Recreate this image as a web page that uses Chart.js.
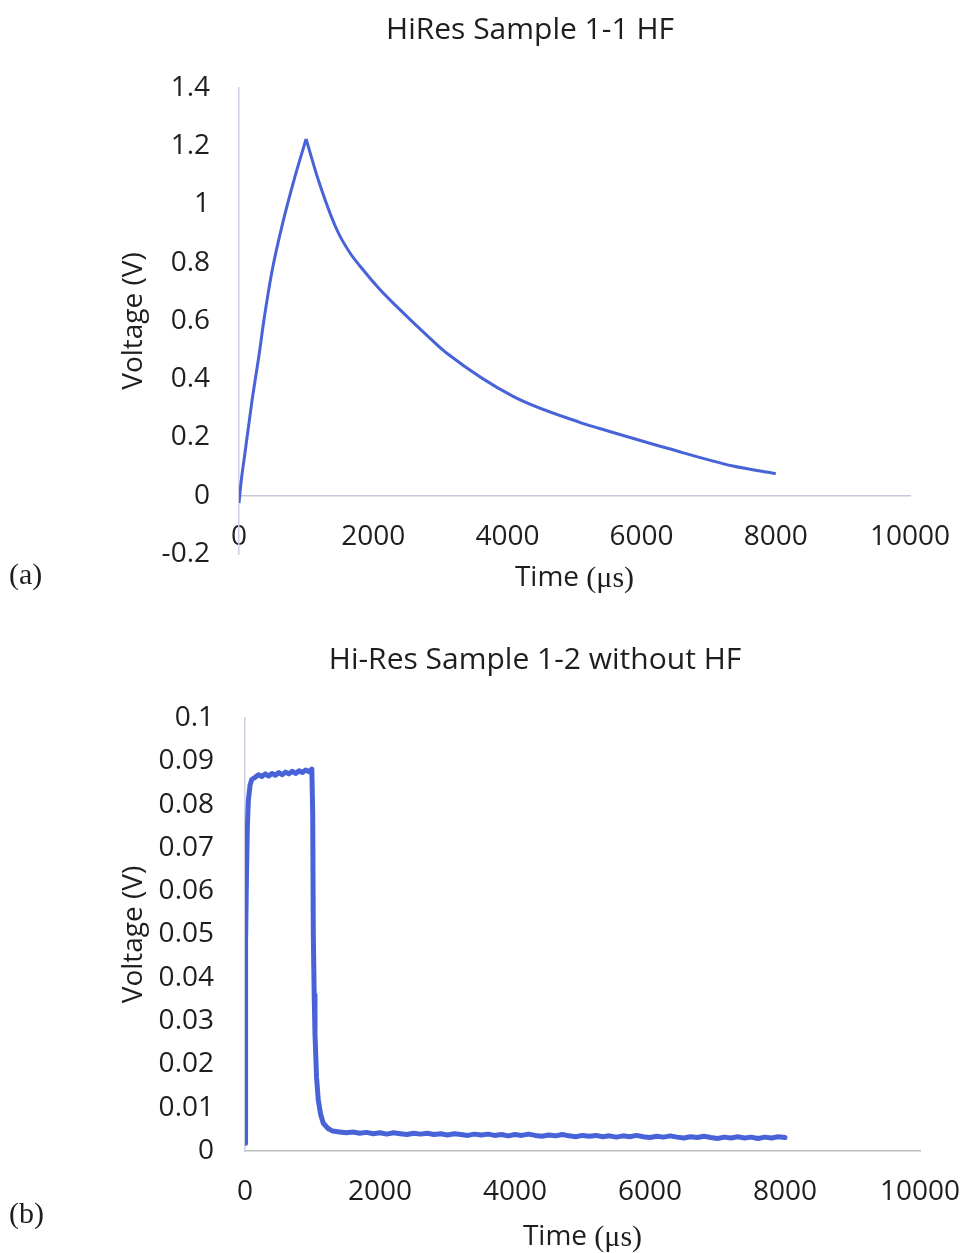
<!DOCTYPE html>
<html>
<head>
<meta charset="utf-8">
<script src="https://cdn.jsdelivr.net/npm/chart.js@4.4.1/dist/chart.umd.min.js"></script>
<style>
  html, body { margin: 0; padding: 0; background: #fff; }
  #wrap { position: relative; width: 965px; height: 1253px; }
  canvas { position: absolute; left: 0; }
  #chartA { top: 0; }
  #chartB { top: 620px; }
</style>
</head>
<body>
<div id="wrap">
  <canvas id="chartA" width="965" height="620"></canvas>
  <canvas id="chartB" width="965" height="633"></canvas>
</div>
<script>
// ---- (a) HiRes Sample 1-1 HF ----
const riseTimeA = [0, 30, 89, 189, 303, 372, 496, 650, 834, 1000];
const riseVoltA = [-0.025, 0.045, 0.147, 0.318, 0.49, 0.604, 0.776, 0.935, 1.096, 1.225];
const decayTimeA = [1000, 1181, 1455, 1650, 1851, 2100, 2348, 2844, 3093, 4085, 5078, 5376, 6400, 7362, 8000];
const decayVoltA = [1.225, 1.085, 0.915, 0.835, 0.775, 0.708, 0.65, 0.541, 0.49, 0.341, 0.252, 0.231, 0.162, 0.102, 0.076];
const yTicksA = [-0.2, 0, 0.2, 0.4, 0.6, 0.8, 1, 1.2, 1.4];

// ---- (b) Hi-Res Sample 1-2 without HF ----
const riseTimeB = [0, 5, 12, 22, 35, 50, 75, 100];
const riseVoltB = [0.0018, 0.025, 0.048, 0.064, 0.075, 0.081, 0.0845, 0.0858];
const flatTimeB = [150, 200, 250, 300, 350, 400, 450, 500, 550, 600, 650, 700, 750, 800, 850, 900, 950, 990];
const flatVoltB = [0.0863, 0.0869, 0.0865, 0.0871, 0.0866, 0.0872, 0.0868, 0.0874, 0.0869, 0.0875, 0.0871, 0.0877, 0.0872, 0.0878, 0.0874, 0.0880, 0.0876, 0.0882];
const fallTimeB = [1003, 1012, 1025, 1037, 1060, 1086, 1120, 1160, 1230];
const fallVoltB = [0.078, 0.050, 0.036, 0.027, 0.017, 0.0117, 0.0085, 0.0064, 0.0052];
const tailTimeB = [1300, 1400, 1500, 1600, 1700, 1800, 1900, 2000, 2100, 2200, 2300, 2400, 2500, 2600, 2700, 2800, 2900,
  3000, 3100, 3200, 3300, 3400, 3500, 3600, 3700, 3800, 3900, 4000, 4100, 4200, 4300, 4400, 4500, 4600, 4700, 4800,
  4900, 5000, 5100, 5200, 5300, 5400, 5500, 5600, 5700, 5800, 5900, 6000, 6100, 6200, 6300, 6400, 6500, 6600, 6700,
  6800, 6900, 7000, 7100, 7200, 7300, 7400, 7500, 7600, 7700, 7800, 7900, 8000];
const tailVoltB = [0.0046, 0.0044, 0.0042, 0.0044, 0.0041, 0.0043, 0.0040, 0.0042, 0.0039, 0.0042, 0.0040, 0.0038,
  0.0041, 0.0039, 0.0041, 0.0038, 0.0040, 0.0037, 0.0040, 0.0038, 0.0036, 0.0039, 0.0037, 0.0039, 0.0036, 0.0038,
  0.0035, 0.0038, 0.0036, 0.0039, 0.0036, 0.0034, 0.0037, 0.0035, 0.0038, 0.0035, 0.0033, 0.0036, 0.0034, 0.0036,
  0.0033, 0.0035, 0.0032, 0.0035, 0.0033, 0.0036, 0.0033, 0.0031, 0.0034, 0.0032, 0.0035, 0.0032, 0.0030, 0.0033,
  0.0031, 0.0034, 0.0031, 0.0029, 0.0032, 0.0030, 0.0033, 0.0030, 0.0032, 0.0029, 0.0032, 0.0030, 0.0033, 0.0031];
const yTicksB = [0, 0.01, 0.02, 0.03, 0.04, 0.05, 0.06, 0.07, 0.08, 0.09, 0.1];

const xTicks = [0, 2000, 4000, 6000, 8000, 10000];

const LINE = '#4863d8';
const TEXT = '#1e1e1e';
const tickFont = { family: '"Open Sans", sans-serif', size: 28 };

const toXY = (xs, ys) => xs.map((x, i) => ({ x: x, y: ys[i] }));
const setTicks = list => scale => { scale.ticks = list.map(v => ({ value: v })); };

// chart title, x-axis label with serif unit, panel letter
const panelText = {
  id: 'panelText',
  afterDraw(chart, args, o) {
    const { ctx, chartArea } = chart;
    const cx = (chartArea.left + chartArea.right) / 2;
    ctx.save();
    ctx.fillStyle = TEXT;
    ctx.textBaseline = 'middle';
    ctx.textAlign = 'center';
    ctx.font = '30px "Open Sans"';
    ctx.fillText(o.title, o.titleX, o.titleY);

    const sans = '28px "Open Sans"';
    const serif = '30px "Liberation Serif"';
    ctx.font = sans;
    const w1 = ctx.measureText('Time ').width;
    ctx.font = serif;
    const w2 = ctx.measureText('(\u03bcs)').width;
    const x0 = cx - (w1 + w2) / 2;
    ctx.textAlign = 'left';
    ctx.font = sans;
    ctx.fillText('Time ', x0, o.axisY);
    ctx.font = serif;
    ctx.fillText('(\u03bcs)', x0 + w1, o.axisY + 1);

    ctx.font = '30px "Liberation Serif"';
    ctx.fillText(o.panel, 9, o.panelY);
    ctx.restore();
  }
};

function xScale(borderColor) {
  return {
    type: 'linear',
    min: 0,
    max: 10000,
    position: { y: 0 },
    // invisible tick marks push the labels down without widening the side padding
    grid: { display: true, color: 'rgba(0,0,0,0)', drawTicks: true, tickLength: 24 },
    border: { color: borderColor, width: 1.5 },
    afterBuildTicks: setTicks(xTicks),
    ticks: { padding: 0, font: tickFont, color: TEXT, maxRotation: 0, autoSkip: false, callback: v => String(v) }
  };
}

function yScale(min, max, ticks, width, pad, digits) {
  return {
    min: min,
    max: max,
    grid: { display: false, drawTicks: false },
    border: { color: '#cdd0e0', width: 1.5 },
    afterBuildTicks: setTicks(ticks),
    afterFit: s => { s.width = width; },
    ticks: { padding: pad, font: tickFont, color: TEXT, autoSkip: false, callback: v => String(+v.toFixed(digits)) },
    title: { display: true, text: 'Voltage (V)', font: tickFont, color: TEXT, padding: 0 }
  };
}

new Chart(document.getElementById('chartA'), {
  type: 'line',
  data: {
    datasets: [
      { data: toXY(riseTimeA, riseVoltA), borderColor: LINE, borderWidth: 3, pointRadius: 0, cubicInterpolationMode: 'monotone' },
      { data: toXY(decayTimeA, decayVoltA), borderColor: LINE, borderWidth: 3, pointRadius: 0, cubicInterpolationMode: 'monotone' }
    ]
  },
  options: {
    responsive: false,
    animation: false,
    layout: { padding: { left: 117, right: 55, top: 88, bottom: 66 } },
    plugins: {
      legend: { display: false },
      tooltip: { enabled: false },
      panelText: { title: 'HiRes Sample 1-1 HF', titleX: 530, titleY: 30, axisY: 578, panel: '(a)', panelY: 576 }
    },
    scales: {
      x: xScale('#c8c9d8'),
      y: yScale(-0.2, 1.4, yTicksA, 122, 29, 2)
    }
  },
  plugins: [panelText]
});

new Chart(document.getElementById('chartB'), {
  type: 'line',
  data: {
    datasets: [{
      data: toXY(riseTimeB.concat(flatTimeB, fallTimeB, tailTimeB), riseVoltB.concat(flatVoltB, fallVoltB, tailVoltB)),
      borderColor: LINE,
      borderWidth: 5,
      borderJoinStyle: 'round',
      borderCapStyle: 'round',
      pointRadius: 0,
      tension: 0
    }]
  },
  options: {
    responsive: false,
    animation: false,
    layout: { padding: { left: 117, right: 45, top: 98, bottom: 102 } },
    plugins: {
      legend: { display: false },
      tooltip: { enabled: false },
      panelText: { title: 'Hi-Res Sample 1-2 without HF', titleX: 535, titleY: 40, axisY: 617, panel: '(b)', panelY: 595 }
    },
    scales: {
      x: xScale('#bdbdbd'),
      y: yScale(0, 0.1, yTicksB, 128, 31, 3)
    }
  },
  plugins: [panelText]
});
</script>
</body>
</html>
